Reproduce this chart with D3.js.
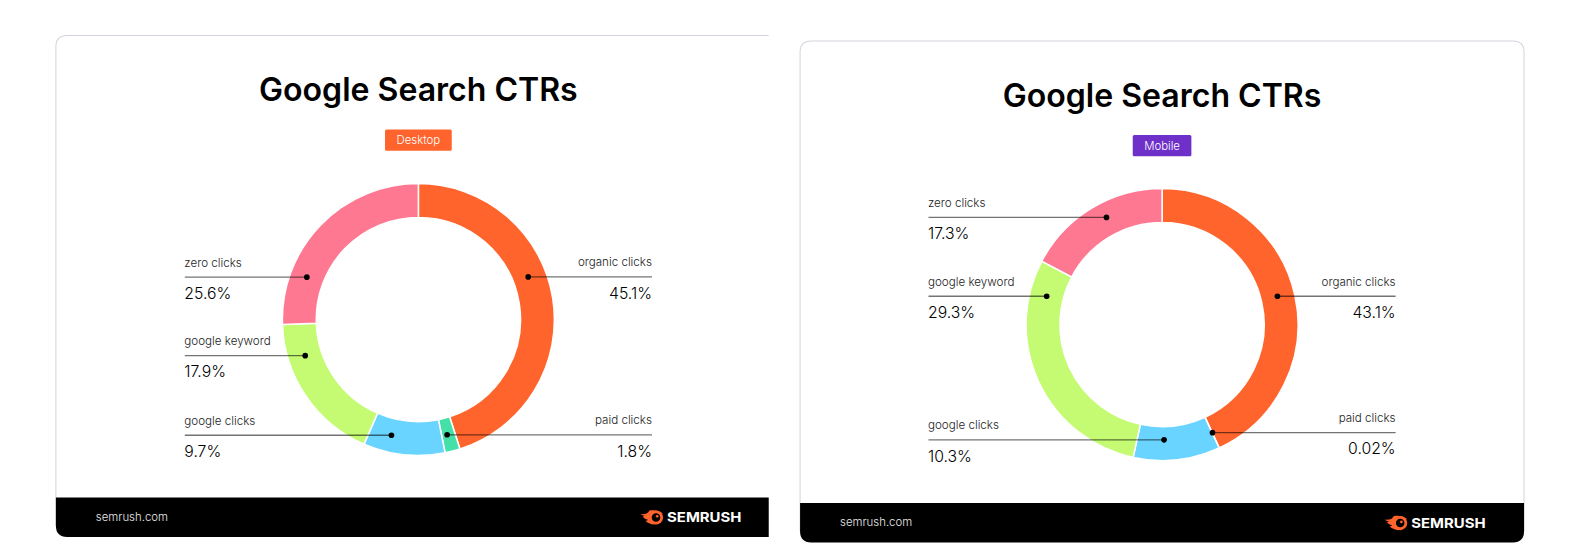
<!DOCTYPE html>
<html lang="en">
<head>
  <meta charset="UTF-8" />
  <title>Google Search CTRs</title>
  <script src="https://d3js.org/d3.v7.min.js"></script>
  <style>
    html, body { margin: 0; background: #fff; overflow: hidden; }
    svg { display: block; }
    text { font-family: Inter, sans-serif; }
  </style>
</head>
<body>
  <svg id="chart" width="1586" height="546" viewBox="0 0 1568 540"></svg>

  <script>
    const categories = ["organic clicks", "paid clicks", "google clicks", "google keyword", "zero clicks"];
    const desktopValues = [45.1, 1.8, 9.7, 17.9, 25.6];
    const mobileValues = [43.1, 0.02, 10.3, 29.3, 17.3];
    const mobileLabels = ["43.1%", "0.02%", "10.3%", "29.3%", "17.3%"];
    const desktopLabels = ["45.1%", "1.8%", "9.7%", "17.9%", "25.6%"];
    const colors = ["#ff642d", "#45e0a8", "#69d4ff", "#c4fb72", "#ff7891"];

    // where each leader dot sits on the ring, clockwise from 12 o'clock
    const desktopDots = [[68.8, 116.5], [166, 117.5], [193.1, 117.5], [252.3, 117.5], [290.8, 118]];
    const mobileDots = [[76.2, 117.5], [155, 118], [179, 114], [283.8, 117.5], [332.6, 119.4]];
    const leftSide = [false, false, true, true, true];

    const svg = d3.select("#chart");
    const pie = d3.pie().sort(null).value((d) => d);
    const arc = d3.arc().innerRadius(101).outerRadius(134.5);

    function drawCard(o) {
      const g = svg.append("g");
      const x0 = o.x, x1 = o.x + o.w, y0 = o.y, y1 = o.y + 496, fy = y1 - 39, r = 11;

      // card outline, the left one is cut off on its right side
      g.append("path")
        .attr("d", o.cut
          ? `M${x1},${y0}H${x0 + r}Q${x0},${y0} ${x0},${y0 + r}V${y1 - r}`
          : `M${x0},${y1 - r}V${y0 + r}Q${x0},${y0} ${x0 + r},${y0}H${x1 - r}Q${x1},${y0} ${x1},${y0 + r}V${y1 - r}`)
        .attr("fill", "none")
        .attr("stroke", "#d3d3db")
        .attr("stroke-width", 1);

      // footer
      g.append("path")
        .attr("d", o.cut
          ? `M${x0},${fy}H${x1}V${y1}H${x0 + r}Q${x0},${y1} ${x0},${y1 - r}Z`
          : `M${x0},${fy}H${x1}V${y1 - r}Q${x1},${y1} ${x1 - r},${y1}H${x0 + r}Q${x0},${y1} ${x0},${y1 - r}Z`)
        .attr("fill", "#000");

      g.append("text")
        .attr("x", x0 + 39.5)
        .attr("y", fy + 23)
        .attr("fill", "#e8e8e8")
        .style("font-size", "11.3px")
        .style("font-weight", 300)
        .text("semrush.com");

      drawLogo(g, o.logoX, fy + 20);

      g.append("text")
        .attr("x", o.cx)
        .attr("y", y0 + 65)
        .attr("text-anchor", "middle")
        .attr("fill", "#000")
        .style("font-size", "31.7px")
        .style("font-weight", 600)
        .text("Google Search CTRs");

      g.append("rect")
        .attr("x", o.cx - o.tagW / 2)
        .attr("y", y0 + 93)
        .attr("width", o.tagW)
        .attr("height", 21)
        .attr("rx", 1.5)
        .attr("fill", o.tagColor);

      g.append("text")
        .attr("x", o.cx)
        .attr("y", y0 + 107.5)
        .attr("text-anchor", "middle")
        .attr("fill", "#fff")
        .style("font-size", "11.3px")
        .style("font-weight", 300)
        .text(o.tag);

      const ring = g.append("g").attr("transform", `translate(${o.cx},${o.cy})`);
      ring.selectAll("path")
        .data(pie(o.values))
        .enter()
        .append("path")
        .attr("d", arc)
        .attr("fill", (d, i) => colors[i])
        .attr("stroke", "#fff")
        .attr("stroke-width", 1.5);

      categories.forEach((name, i) => {
        const a = o.dots[i][0] * Math.PI / 180;
        const dx = o.cx + o.dots[i][1] * Math.sin(a);
        const dy = o.cy - o.dots[i][1] * Math.cos(a);
        const left = leftSide[i];
        const edge = left ? o.cx - 231 : o.cx + 231;
        const anchor = left ? "start" : "end";

        g.append("line")
          .attr("x1", edge).attr("x2", dx)
          .attr("y1", dy).attr("y2", dy)
          .attr("stroke", "#000")
          .attr("stroke-opacity", 0.55)
          .attr("stroke-width", 1.3);

        g.append("circle")
          .attr("cx", dx).attr("cy", dy)
          .attr("r", 2.8)
          .attr("fill", "#000");

        g.append("text")
          .attr("x", edge - (left ? 0.5 : 0))
          .attr("y", dy - 10.5)
          .attr("text-anchor", anchor)
          .attr("fill", "#222")
          .style("font-size", "11.5px")
          .style("font-weight", 300)
          .text(name);

        g.append("text")
          .attr("x", edge - (left ? 0.5 : 0))
          .attr("y", dy + 21.5)
          .attr("text-anchor", anchor)
          .attr("fill", "#000")
          .style("font-size", "15.6px")
          .style("font-weight", 300)
          .text(o.labels[i]);
      });
    }

    function drawLogo(g, x, y) {
      const logo = g.append("g").attr("transform", `translate(${x},${y})`);
      // flame tails trailing left of the ball
      logo.append("path")
        .attr("d", "M0,-3.5 C5,-3 8,-4.5 9,-7 C13,-8 18,-7.5 22,-4.5 L14,6.8 C10,6.5 7,5 5,3 C6.5,3 7,2.6 7.5,2 C5,1.6 3,0 2.5,-1.5 C3.5,-1.3 4.5,-1.4 5,-1.8 C3,-2 1,-2.6 0,-3.5 Z")
        .attr("fill", "#ff642d");
      logo.append("circle").attr("cx", 15.5).attr("cy", -0.2).attr("r", 7).attr("fill", "#ff642d");
      logo.append("circle").attr("cx", 15.5).attr("cy", -0.2).attr("r", 4.2).attr("fill", "#000");
      logo.append("circle").attr("cx", 16.7).attr("cy", -1.3).attr("r", 1.3).attr("fill", "#ff642d");
      logo.append("text")
        .attr("x", 26.5)
        .attr("y", 4.6)
        .attr("fill", "#fff")
        .attr("textLength", 73.5)
        .attr("lengthAdjust", "spacingAndGlyphs")
        .style("font-size", "13px")
        .style("font-weight", 700)
        .text("SEMRUSH");
    }

    drawCard({
      x: 55, y: 35, w: 705, cut: true, cx: 413.5, cy: 316,
      tag: "Desktop", tagW: 66, tagColor: "#ff642d", logoX: 633,
      values: desktopValues, labels: desktopLabels, dots: desktopDots
    });

    drawCard({
      x: 791, y: 40.5, w: 716, cut: false, cx: 1149, cy: 321,
      tag: "Mobile", tagW: 58, tagColor: "#6e30c8", logoX: 1369,
      values: mobileValues, labels: mobileLabels, dots: mobileDots
    });
  </script>
</body>
</html>
